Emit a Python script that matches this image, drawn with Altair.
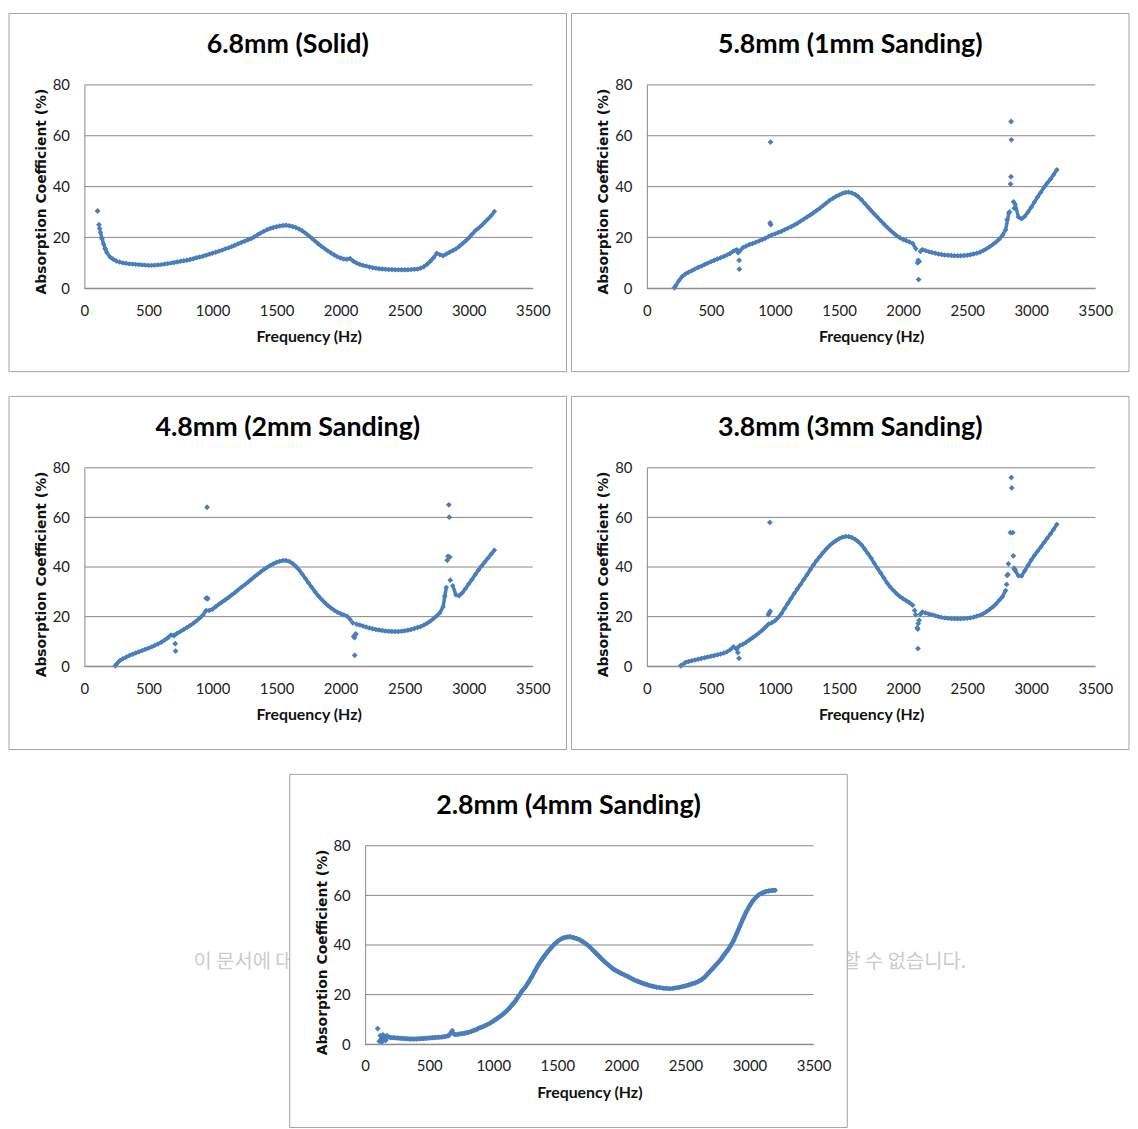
import altair as alt
import pandas as pd

# ---------------- data ----------------
STEP = 25  # Hz between the sampled readings
TITLES = ["6.8mm (Solid)", "5.8mm (1mm Sanding)", "4.8mm (2mm Sanding)",
          "3.8mm (3mm Sanding)", "2.8mm (4mm Sanding)"]
X_TICKS = [0, 500, 1000, 1500, 2000, 2500, 3000, 3500]
Y_TICKS = [0, 20, 40, 60, 80]
WATERMARK_LEFT = "이 문서에 대한"
WATERMARK_RIGHT = "할 수 없습니다."

# 6.8mm (Solid)
S1_START = 125
S1 = [22.0, 17.4, 14.1, 12.3, 11.4, 10.7, 10.3, 10.0, 9.8,
      9.6, 9.5, 9.4, 9.3, 9.2, 9.1, 9.0, 9.0, 9.1, 9.2,
      9.3, 9.5, 9.7, 9.9, 10.1, 10.3, 10.6, 10.8, 11.0, 11.3,
      11.6, 12.0, 12.3, 12.6, 13.0, 13.4, 13.8, 14.2, 14.6, 15.0,
      15.5, 15.9, 16.4, 16.9, 17.5, 18.0, 18.5, 19.0, 19.5, 20.2,
      21.0, 21.7, 22.4, 23.0, 23.5, 23.9, 24.2, 24.5, 24.7, 24.8,
      24.6, 24.3, 23.9, 23.3, 22.6, 21.7, 20.7, 19.7, 18.6, 17.5,
      16.5, 15.6, 14.7, 13.9, 13.1, 12.4, 11.9, 11.5, 11.4, 11.7,
      10.6, 9.9, 9.4, 9.0, 8.7, 8.4, 8.1, 7.9, 7.7, 7.6,
      7.5, 7.4, 7.4, 7.3, 7.3, 7.3, 7.3, 7.3, 7.4, 7.5,
      7.6, 7.9, 8.5, 9.4, 10.6, 12.0, 13.8, 13.2, 12.8, 13.5,
      14.2, 14.8, 15.5, 16.4, 17.5, 18.6, 19.8, 21.2, 22.6, 23.6,
      24.7, 26.0, 27.2, 28.5, 30.2]
S1_EXTRA_F = [103, 114, 119, 137, 162]
S1_EXTRA_V = [30.4, 25.0, 23.5, 19.5, 15.5]

# 5.8mm (1mm Sanding)
S2_START = 225
S2 = [1.0, 3.0, 4.6, 5.6, 6.3, 6.9, 7.6, 8.2, 8.7, 9.3,
      9.9, 10.4, 11.0, 11.5, 12.0, 12.5, 13.1, 13.7, 14.6, 15.2,
      14.6, 16.0, 16.6, 17.2, 17.6, 18.1, 18.6, 19.1, 19.7, 20.4,
      21.0, 21.4, 21.9, 22.4, 23.0, 23.6, 24.2, 24.9, 25.6, 26.4,
      27.2, 28.0, 28.8, 29.7, 30.6, 31.5, 32.5, 33.5, 34.5, 35.3,
      36.1, 36.7, 37.3, 37.7, 37.8, 37.5, 36.9, 36.0, 34.8, 33.4,
      32.0, 30.6, 29.2, 27.9, 26.6, 25.3, 24.0, 22.8, 21.7, 20.7,
      19.9, 19.2, 18.7, 18.2, 17.6, 15.5, None, 15.2, 14.8, 14.4,
      14.1, 13.8, 13.5, 13.3, 13.1, 13.0, 12.9, 12.8, 12.8, 12.8,
      12.9, 13.0, 13.2, 13.5, 13.8, 14.2, 14.8, 15.5, 16.3, 17.2,
      18.2, 19.3, 20.8, 23.0, 29.5, None, 33.0, 28.0, 27.3, 28.3,
      30.0, 31.9, 33.9, 35.9, 37.8, 39.7, 41.4, 42.9, 44.7, 46.6]
S2_EXTRA_F = [215, 712, 720, 722, 962, 967, 965, 2112, 2118, 2121, 2125, 2135,
              2812, 2830, 2838, 2842, 2845, 2843, 2862, 2868]
S2_EXTRA_V = [0.2, 14.0, 11.0, 7.5, 25.7, 25.0, 57.5, 10.0, 11.0, 3.4, 10.5, 14.5,
              27.0, 30.0, 41.0, 43.9, 58.4, 65.6, 34.0, 31.5]

# 4.8mm (2mm Sanding)
S3_START = 250
S3 = [0.8, 2.2, 3.0, 3.6, 4.3, 4.8, 5.3, 5.8, 6.3, 6.8,
      7.3, 7.8, 8.4, 9.0, 9.7, 10.5, 11.4, 12.6, 12.3, 13.3,
      14.0, 14.8, 15.6, 16.4, 17.3, 18.3, 19.4, 20.6, 22.5, 22.5,
      23.0, 24.0, 25.0, 25.9, 26.8, 27.7, 28.7, 29.7, 30.8, 31.8,
      32.8, 33.8, 34.9, 36.0, 37.0, 38.0, 39.0, 39.8, 40.6, 41.3,
      41.9, 42.3, 42.6, 42.6, 42.2, 41.4, 40.3, 38.9, 37.2, 35.4,
      33.6, 31.8, 30.0, 28.4, 27.0, 25.7, 24.5, 23.5, 22.6, 21.8,
      21.2, 20.7, 20.2, 18.8, None, 16.9, 16.6, 16.2, 15.8, 15.4,
      15.1, 14.8, 14.6, 14.4, 14.2, 14.1, 14.0, 14.0, 14.0, 14.1,
      14.3, 14.5, 14.8, 15.2, 15.6, 16.0, 16.6, 17.3, 18.2, 19.2,
      20.3, 21.6, 24.0, 31.8, None, 32.5, 28.8, 28.4, 29.6, 31.3,
      33.2, 35.0, 36.9, 38.7, 40.4, 42.0, 43.6, 45.2, 46.8]
S3_EXTRA_F = [241, 700, 709, 712, 950, 957, 962, 957, 2095, 2103, 2108, 2113,
              2110, 2118, 2812, 2832, 2838, 2845, 2848, 2852, 2856]
S3_EXTRA_V = [0.2, 12.5, 9.1, 6.1, 27.4, 27.6, 27.2, 64.1, 17.5, 12.0, 11.5, 12.6,
              4.4, 13.0, 28.2, 42.7, 44.3, 65.1, 60.1, 44.0, 34.7]

# 3.8mm (3mm Sanding)
S4_START = 275
S4 = [0.5, 1.5, 1.9, 2.2, 2.5, 2.8, 3.1, 3.4, 3.7, 4.0,
      4.3, 4.6, 4.9, 5.3, 5.8, 6.6, 7.9, 6.8, 8.3, 8.9,
      9.7, 10.6, 11.5, 12.4, 13.4, 14.5, 15.7, 17.0, 17.5, 18.3,
      19.6, 21.2, 23.3, 25.3, 27.3, 29.3, 31.2, 33.0, 35.0, 36.9,
      38.9, 40.8, 42.6, 44.2, 45.8, 47.3, 48.6, 49.7, 50.6, 51.4,
      52.0, 52.3, 52.3, 51.9, 51.2, 50.2, 49.0, 47.3, 45.5, 43.6,
      41.5, 39.5, 37.6, 35.6, 33.6, 31.9, 30.5, 29.2, 28.1, 27.2,
      26.4, 25.6, 24.6, None, None, 21.9, 21.5, 21.1, 20.8, 20.4,
      20.0, 19.7, 19.5, 19.3, 19.2, 19.1, 19.1, 19.1, 19.2, 19.3,
      19.5, 19.8, 20.2, 20.6, 21.2, 22.0, 22.9, 23.9, 25.1, 26.6,
      28.0, 30.5, None, None, 38.5, 36.5, 36.4, 38.5, 40.7, 42.8,
      44.7, 46.4, 48.1, 49.9, 51.6, 53.3, 55.2, 57.2]
S4_EXTRA_F = [264, 700, 710, 719, 948, 955, 962, 960, 2090, 2098, 2110, 2114,
              2118, 2116, 2125, 2135, 2808, 2812, 2818, 2822, 2838, 2845, 2848,
              2856, 2860, 2866, 2872]
S4_EXTRA_V = [0.2, 7.2, 5.5, 3.2, 20.8, 21.5, 22.2, 58.0, 22.5, 20.8, 15.5, 15.0,
              17.2, 7.1, 18.5, 21.0, 33.0, 36.6, 37.0, 41.3, 53.9, 76.1, 71.9,
              53.9, 44.5, 39.5, 39.0]

# 2.8mm (4mm Sanding)
S5_START = 125
S5 = [2.0, 2.6, 2.9, 2.7, 2.6, 2.5, 2.4, 2.3, 2.2,
      2.1, 2.1, 2.1, 2.2, 2.3, 2.4, 2.5, 2.6, 2.7, 2.8,
      2.9, 3.1, 3.4, 4.8, 3.9, 4.0, 4.2, 4.4, 4.7, 5.1,
      5.6, 6.1, 6.7, 7.2, 7.8, 8.5, 9.3, 10.2, 11.1, 12.1,
      13.2, 14.5, 16.0, 17.6, 19.5, 21.5, 23.0, 25.0, 27.1, 29.5,
      31.8, 33.8, 35.6, 37.3, 38.8, 40.2, 41.4, 42.3, 42.9, 43.2,
      43.3, 43.0, 42.6, 42.1, 41.3, 40.4, 39.4, 38.1, 36.8, 35.5,
      34.2, 33.0, 31.9, 30.8, 29.9, 29.2, 28.5, 27.9, 27.3, 26.6,
      25.9, 25.4, 24.9, 24.4, 24.0, 23.6, 23.3, 23.0, 22.8, 22.6,
      22.5, 22.4, 22.5, 22.7, 22.9, 23.2, 23.5, 23.9, 24.3, 24.7,
      25.3, 26.0, 27.0, 28.4, 29.8, 31.2, 32.6, 34.1, 35.9, 37.6,
      39.5, 41.7, 44.6, 47.6, 50.6, 53.4, 55.7, 57.7, 59.2, 60.3,
      61.0, 61.5, 61.8, 62.0, 62.1]
S5_EXTRA_F = [98, 110, 118, 130, 140, 160, 170, 680]
S5_EXTRA_V = [6.3, 1.2, 3.5, 0.8, 3.8, 1.5, 3.5, 5.5]

# ---------------- styling ----------------
W = 452
BLUE = "#4a7ebb"
GRID = "#878787"
BORDER = "#a3a3a3"

x_scale = alt.Scale(domain=[0, 3500], nice=False, zero=False)
y_scale = alt.Scale(domain=[0, 80], nice=False)

x_axis = alt.Axis(values=X_TICKS, format="d", title="Frequency (Hz)", grid=False,
                  ticks=False, tickSize=0, domain=True, domainColor=GRID,
                  labelFont="Lato", labelFontSize=15, labelColor="#222222",
                  labelPadding=15, labelFlush=False, labelOverlap=False,
                  titleFont="Lato", titleFontSize=16, titleFontWeight="bold",
                  titleColor="#111111", titlePadding=11, zindex=1)
y_axis = alt.Axis(values=Y_TICKS, title="Absorption Coefficient (%)", grid=False,
                  ticks=False, tickSize=0, domain=True, domainColor=GRID,
                  labelFont="Lato", labelFontSize=15, labelColor="#222222",
                  labelPadding=15, labelFlush=False,
                  titleFont="DejaVu Sans", titleFontSize=14, titleFontWeight="bold",
                  titleColor="#111111", titlePadding=4, titleY=107, zindex=1)

X_ENC = alt.X("f:Q", scale=x_scale, axis=x_axis)
Y_ENC = alt.Y("v:Q", scale=y_scale, axis=y_axis)


def panel(title, start, vals, ex_f, ex_v, h, watermark=False, band=3.5):
    # split the sampled curve into runs wherever a reading is missing
    rows, seg = [], 0
    for i, v in enumerate(vals):
        if v is None:
            seg += 1
            continue
        rows.append({"f": start + STEP * i, "v": v, "s": seg})
    main = pd.DataFrame(rows)
    extra = pd.DataFrame({"f": ex_f, "v": ex_v})
    one = pd.DataFrame({"k": [0]})
    layers = []
    if watermark:
        layers.append(alt.Chart(pd.DataFrame({"t": [WATERMARK_LEFT]})).mark_text(
            font="Noto Sans CJK KR", fontSize=20, color="#cbcbcb", align="left",
            baseline="middle").encode(x=alt.value(-173), y=alt.value(117), text="t:N"))
        layers.append(alt.Chart(pd.DataFrame({"t": [WATERMARK_RIGHT]})).mark_text(
            font="Noto Sans CJK KR", fontSize=20, color="#cbcbcb", align="left",
            baseline="middle").encode(x=alt.value(481), y=alt.value(117), text="t:N"))
    layers.append(alt.Chart(one).mark_rect(fill="white", stroke=BORDER, strokeWidth=1).encode(
        x=alt.value(-76), x2=alt.value(486), y=alt.value(-72), y2=alt.value(h + 84)))
    layers.append(alt.Chart(pd.DataFrame({"v": Y_TICKS})).mark_rule(
        color=GRID, strokeWidth=1).encode(y=Y_ENC, x=alt.value(0), x2=alt.value(W)))
    layers.append(alt.Chart(main).mark_line(color=BLUE, strokeWidth=band,
                                            strokeJoin="round", strokeCap="round").encode(
        x=X_ENC, y=Y_ENC, detail="s:N"))
    layers.append(alt.Chart(main).mark_point(shape="diamond", filled=True, size=30,
                                             color=BLUE, opacity=1, strokeWidth=0).encode(
        x=X_ENC, y=Y_ENC))
    layers.append(alt.Chart(extra).mark_point(shape="diamond", filled=True, size=34,
                                              color=BLUE, opacity=1, strokeWidth=0).encode(
        x=X_ENC, y=Y_ENC))
    layers.append(alt.Chart(pd.DataFrame({"t": [title]})).mark_text(
        font="Lato", fontSize=27, fontWeight="bold", color="#000000", align="center",
        baseline="alphabetic").encode(x=alt.value(205), y=alt.value(-32), text="t:N"))
    return alt.layer(*layers).properties(width=W, height=h)


p1 = panel(TITLES[0], S1_START, S1, S1_EXTRA_F, S1_EXTRA_V, 205)
p2 = panel(TITLES[1], S2_START, S2, S2_EXTRA_F, S2_EXTRA_V, 205)
p3 = panel(TITLES[2], S3_START, S3, S3_EXTRA_F, S3_EXTRA_V, 200)
p4 = panel(TITLES[3], S4_START, S4, S4_EXTRA_F, S4_EXTRA_V, 200)
p5 = panel(TITLES[4], S5_START, S5, S5_EXTRA_F, S5_EXTRA_V, 200, watermark=True, band=4.5)

# empty white spacer that pushes the last panel to the middle of the page
spacer = alt.Chart(pd.DataFrame({"k": [0]})).mark_rule(color="white", strokeWidth=1).encode(
    x=alt.value(0), x2=alt.value(100), y=alt.value(0)
).properties(width=100, height=1)

row1 = alt.hconcat(p1, p2, spacing=3)
row2 = alt.hconcat(p3, p4, spacing=3)
row3 = alt.hconcat(spacer, p5, spacing=9)

chart = alt.vconcat(row1, row2, row3, spacing=23).properties(
    padding=0, background="white"
).configure_view(strokeWidth=0)

chart.save("out.html", embed_options={"renderer": "svg", "actions": False})
